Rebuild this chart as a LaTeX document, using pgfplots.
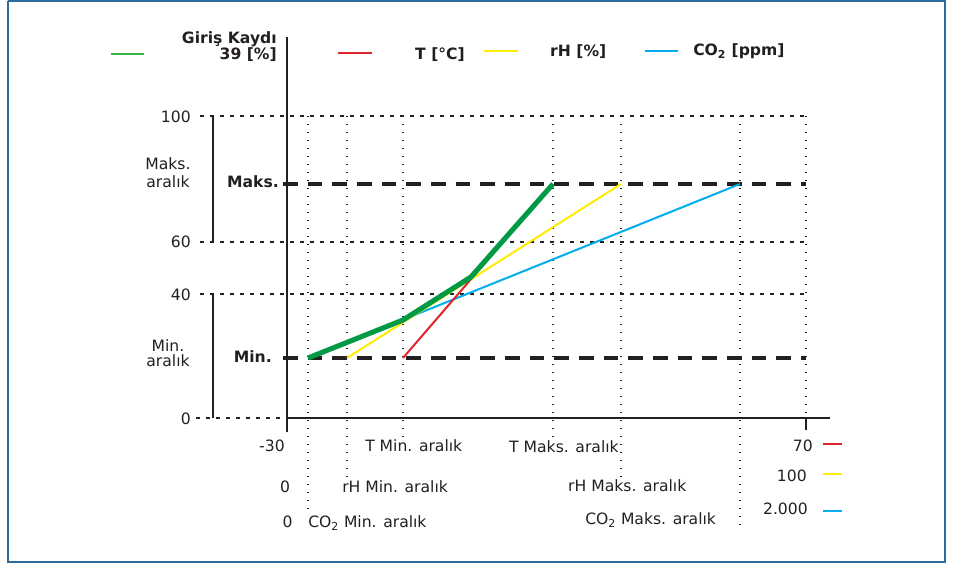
\documentclass[border=0pt]{standalone}
\usepackage{pgfplots}
\pgfplotsset{compat=1.18}
\usepackage{fontspec}
\setmainfont{DejaVu Sans}

\definecolor{ink}{HTML}{231F20}
\definecolor{frame}{HTML}{2F6B9A}
\definecolor{cgreen}{HTML}{009A44}
\definecolor{lgreen}{HTML}{3DB54A}
\definecolor{cred}{HTML}{E0262B}
\definecolor{cyellow}{HTML}{FFEC00}
\definecolor{cblue}{HTML}{00AEEF}

\begin{document}
\begin{tikzpicture}[
  lbl/.style={font=\fontsize{11.7}{13}\selectfont, text=ink, inner sep=0pt},
  blbl/.style={lbl, font=\fontsize{11.7}{13}\selectfont\bfseries},
]
\begin{axis}[
  width=714.75pt, height=423.75pt, scale only axis,
  xmin=-85.3, xmax=98.33, ymin=-48.68, ymax=138.41,
  hide axis, clip=false,
  every axis plot/.append style={no marks},
  vdot/.style={ink, line width=0.9pt, dash pattern=on 1pt off 5pt},
  hdot/.style={ink, line width=1.3pt, dash pattern=on 3pt off 4.5pt},
  hdash/.style={ink, line width=2.3pt, dash pattern=on 11pt off 7.5pt},
]
% full picture area
\addplot[draw=none] coordinates {(-85.3,-48.68) (98.33,138.41)};

% frame
\addplot[frame, line width=1.5pt] coordinates {(-83.85,138.0) (96.78,138.0) (96.78,-47.68) (-83.85,-47.68) (-83.85,138.0)};

% vertical dotted lines (limits of each range)
\addplot[vdot] coordinates {(-25.95,100) (-25.95,-30.46)};
\addplot[vdot] coordinates {(-18.44,100) (-18.44,-19.87)};
\addplot[vdot] coordinates {(-7.65,100) (-7.65,-6.29)};
\addplot[vdot] coordinates {(21.25,100) (21.25,-7.28)};
\addplot[vdot] coordinates {(34.35,100) (34.35,-19.54)};
\addplot[vdot] coordinates {(57.28,100) (57.28,-35.43)};
\addplot[vdot] coordinates {(70,100) (70,0)};

% horizontal grid lines
\addplot[hdot] coordinates {(-46.76,100) (70,100)};
\addplot[hdot] coordinates {(-46.76,58.28) (70,58.28)};
\addplot[hdot] coordinates {(-46.76,41.06) (70,41.06)};
\addplot[hdot] coordinates {(-47.5,0) (-30,0)};

% Maks. / Min. levels
\addplot[hdash] coordinates {(-30.77,77.48) (70,77.48)};
\addplot[hdash] coordinates {(-30.77,19.87) (70,19.87)};

% brackets
\addplot[ink, line width=1.4pt] coordinates {(-44.26,100) (-44.26,58.28)};
\addplot[ink, line width=1.4pt] coordinates {(-44.26,41.06) (-44.26,0)};

% axes
\addplot[ink, line width=1.5pt] coordinates {(-30,126.16) (-30,-4.6)};
\addplot[ink, line width=1.3pt] coordinates {(-30,0) (74.62,0)};
\addplot[ink, line width=1.3pt] coordinates {(70,0) (70,-3.97)};

% signals
\addplot[cblue, line width=1.5pt] coordinates {(-25.95,19.87) (57.28,77.48)};
\addplot[cyellow, line width=1.5pt] coordinates {(-18.44,19.87) (34.35,77.48)};
\addplot[cred, line width=1.5pt] coordinates {(-7.65,19.87) (21.25,77.48)};
\addplot[cgreen, line width=3.8pt, line join=round] coordinates {(-25.95,19.87) (-7.65,32.45) (5.45,46.69) (21.25,77.48)};

% legend swatches
\addplot[lgreen, line width=1.8pt] coordinates {(-63.91,120.53) (-57.55,120.53)};
\addplot[cred, line width=1.8pt] coordinates {(-20.17,120.86) (-13.62,120.86)};
\addplot[cyellow, line width=1.8pt] coordinates {(7.96,121.52) (14.51,121.52)};
\addplot[cblue, line width=1.8pt] coordinates {(38.98,121.52) (45.34,121.52)};
\addplot[cred, line width=1.8pt] coordinates {(73.28,-8.61) (76.94,-8.61)};
\addplot[cyellow, line width=1.8pt] coordinates {(73.28,-18.54) (76.94,-18.54)};
\addplot[cblue, line width=1.8pt] coordinates {(73.28,-30.79) (76.94,-30.79)};

% top labels
\node[blbl, anchor=base east] at (axis cs:-31.93,124.17) {Giriş Kaydı};
\node[blbl, anchor=base east] at (axis cs:-31.93,118.87) {39 [\%]};
\node[blbl, anchor=base west] at (axis cs:-5.34,118.87) {T [°C]};
\node[blbl, anchor=base west] at (axis cs:20.67,119.54) {rH [\%]};
\node[blbl, anchor=base west] at (axis cs:48.23,119.87) {CO\textsubscript{2} [ppm]};

% y labels
\node[lbl, anchor=base east] at (axis cs:-48.5,98.01) {100};
\node[lbl, anchor=base east] at (axis cs:-48.5,56.29) {60};
\node[lbl, anchor=base east] at (axis cs:-48.5,39.07) {40};
\node[lbl, anchor=base east] at (axis cs:-48.5,-1.99) {0};
\node[lbl, anchor=base] at (axis cs:-52.93,82.12) {Maks.};
\node[lbl, anchor=base] at (axis cs:-52.93,76.16) {aralık};
\node[lbl, anchor=base] at (axis cs:-52.93,22.18) {Min.};
\node[lbl, anchor=base] at (axis cs:-52.93,16.89) {aralık};
\node[blbl, anchor=base east] at (axis cs:-31.54,76.16) {Maks.};
\node[blbl, anchor=base east] at (axis cs:-32.89,18.21) {Min.};

% x labels
\node[lbl, anchor=base east] at (axis cs:-30.39,-11.26) {-30};
\node[lbl, anchor=base west] at (axis cs:-14.97,-11.26) {T Min. aralık};
\node[lbl, anchor=base west] at (axis cs:12.77,-11.59) {T Maks. aralık};
\node[lbl, anchor=base east] at (axis cs:71.35,-11.26) {70};
\node[lbl, anchor=base] at (axis cs:-30.39,-24.83) {0};
\node[lbl, anchor=base west] at (axis cs:-19.40,-24.83) {rH Min. aralık};
\node[lbl, anchor=base west] at (axis cs:24.14,-24.50) {rH Maks. aralık};
\node[lbl, anchor=base east] at (axis cs:70.19,-21.19) {100};
\node[lbl, anchor=base] at (axis cs:-29.90,-36.42) {0};
\node[lbl, anchor=base west] at (axis cs:-25.95,-36.42) {CO\textsubscript{2} Min. aralık};
\node[lbl, anchor=base west] at (axis cs:27.42,-35.43) {CO\textsubscript{2} Maks. aralık};
\node[lbl, anchor=base east] at (axis cs:70.39,-32.12) {2.000};
\end{axis}
\end{tikzpicture}
\end{document}
